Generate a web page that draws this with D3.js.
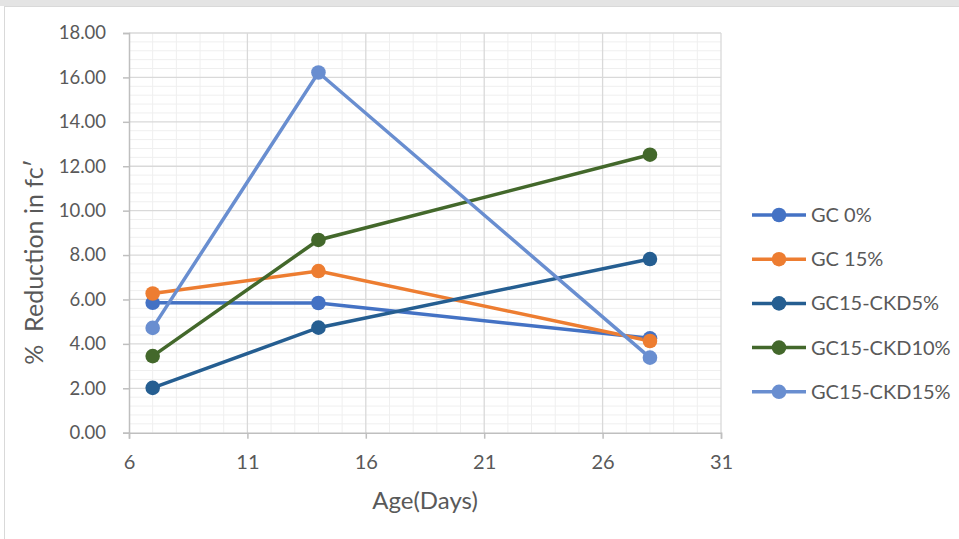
<!DOCTYPE html>
<html><head><meta charset="utf-8">
<script src="https://cdn.jsdelivr.net/npm/d3@7"></script>
<style>body{margin:0;background:#fff;}svg{display:block;font-family:Lato,"Open Sans",sans-serif;}</style>
</head><body>
<svg id="c" width="959" height="539"></svg>
<script>
const ages = [7, 14, 28];
const seriesNames = ["GC 0%", "GC 15%", "GC15-CKD5%", "GC15-CKD10%", "GC15-CKD15%"];
const gc0 = [5.85, 5.84, 4.25];
const gc15 = [6.27, 7.28, 4.13];
const ckd5 = [2.02, 4.73, 7.82];
const ckd10 = [3.45, 8.68, 12.52];
const ckd15 = [4.72, 16.22, 3.38];
const colors = ["#4472C4", "#ED7D31", "#255E91", "#43682B", "#698ED0"];
const xTicks = [6, 11, 16, 21, 26, 31];
const yTicks = [0, 2, 4, 6, 8, 10, 12, 14, 16, 18];
const allSeries = [gc0, gc15, ckd5, ckd10, ckd15];

const svg = d3.select("#c");
// frame
svg.append("rect").attr("x",0).attr("y",0).attr("width",959).attr("height",6).attr("fill","#e4e4e4");
svg.append("rect").attr("x",4.5).attr("y",6.5).attr("width",960).attr("height",540).attr("fill","#fff").attr("stroke","#d9d9d9");

const x = d3.scaleLinear().domain([6,31]).range([129,721]);
const y = d3.scaleLinear().domain([0,18]).range([432.7,33]);

const g = svg.append("g");
// minor grid
for (let v = 6; v <= 31; v += 1) {
  if ((v-6)%5===0) continue;
  g.append("line").attr("x1",x(v)).attr("x2",x(v)).attr("y1",y(0)).attr("y2",y(18)).attr("stroke","#efefef").attr("stroke-width",1);
}
for (let i = 0; i <= 45; i++) {
  if (i%5===0) continue;
  const v = i*0.4;
  g.append("line").attr("x1",x(6)).attr("x2",x(31)).attr("y1",y(v)).attr("y2",y(v)).attr("stroke","#efefef").attr("stroke-width",1);
}
// major grid
xTicks.forEach(v=>{ if(v!==6) g.append("line").attr("x1",x(v)).attr("x2",x(v)).attr("y1",y(0)).attr("y2",y(18)).attr("stroke","#d9d9d9").attr("stroke-width",1.3);});
yTicks.forEach(v=>{ if(v!==0) g.append("line").attr("x1",x(6)).attr("x2",x(31)).attr("y1",y(v)).attr("y2",y(v)).attr("stroke","#d9d9d9").attr("stroke-width",1.3);});

// axes
const xa = svg.append("g").attr("transform",`translate(0,${y(0)})`)
  .call(d3.axisBottom(x).tickValues(xTicks).tickSize(6).tickPadding(16).tickFormat(d3.format("d")));
const ya = svg.append("g").attr("transform",`translate(${x(6)},0)`)
  .call(d3.axisLeft(y).tickValues(yTicks).tickSize(6).tickPadding(17).tickFormat(d3.format(".2f")));
[xa,ya].forEach(a=>{
  a.selectAll("path,line").attr("stroke","#bfbfbf").attr("stroke-width",1.5);
  a.selectAll("text").attr("fill","#595959").style("font-family","Lato, sans-serif");
});
xa.selectAll("text").style("font-size","20px");
ya.selectAll("text").style("font-size","18.5px");

// series
const line = d3.line().x((d,i)=>x(ages[i])).y(d=>y(d));
allSeries.forEach((s,k)=>{
  svg.append("path").datum(s).attr("d",line).attr("fill","none").attr("stroke",colors[k]).attr("stroke-width",3.5);
});
allSeries.forEach((s,k)=>{
  svg.selectAll(null).data(s).enter().append("circle")
    .attr("cx",(d,i)=>x(ages[i])).attr("cy",d=>y(d)).attr("r",7.3).attr("fill",colors[k]);
});

// titles
svg.append("text").attr("x",425).attr("y",509).attr("text-anchor","middle").attr("fill","#595959").style("font-size","24px").text("Age(Days)");
svg.append("text").attr("transform","translate(43,262) rotate(-90)").attr("text-anchor","middle").attr("fill","#595959").style("font-size","25px").style("white-space","pre").text("%  Reduction in fc′");

// legend
const lg = svg.append("g");
seriesNames.forEach((n,k)=>{
  const yy = 215 + k*44.2;
  lg.append("line").attr("x1",752).attr("x2",806).attr("y1",yy).attr("y2",yy).attr("stroke",colors[k]).attr("stroke-width",3.5);
  lg.append("circle").attr("cx",779).attr("cy",yy).attr("r",7.3).attr("fill",colors[k]);
  lg.append("text").attr("x",811).attr("y",yy+7).attr("fill","#595959").style("font-size","20px").text(n);
});
</script>
</body></html>
